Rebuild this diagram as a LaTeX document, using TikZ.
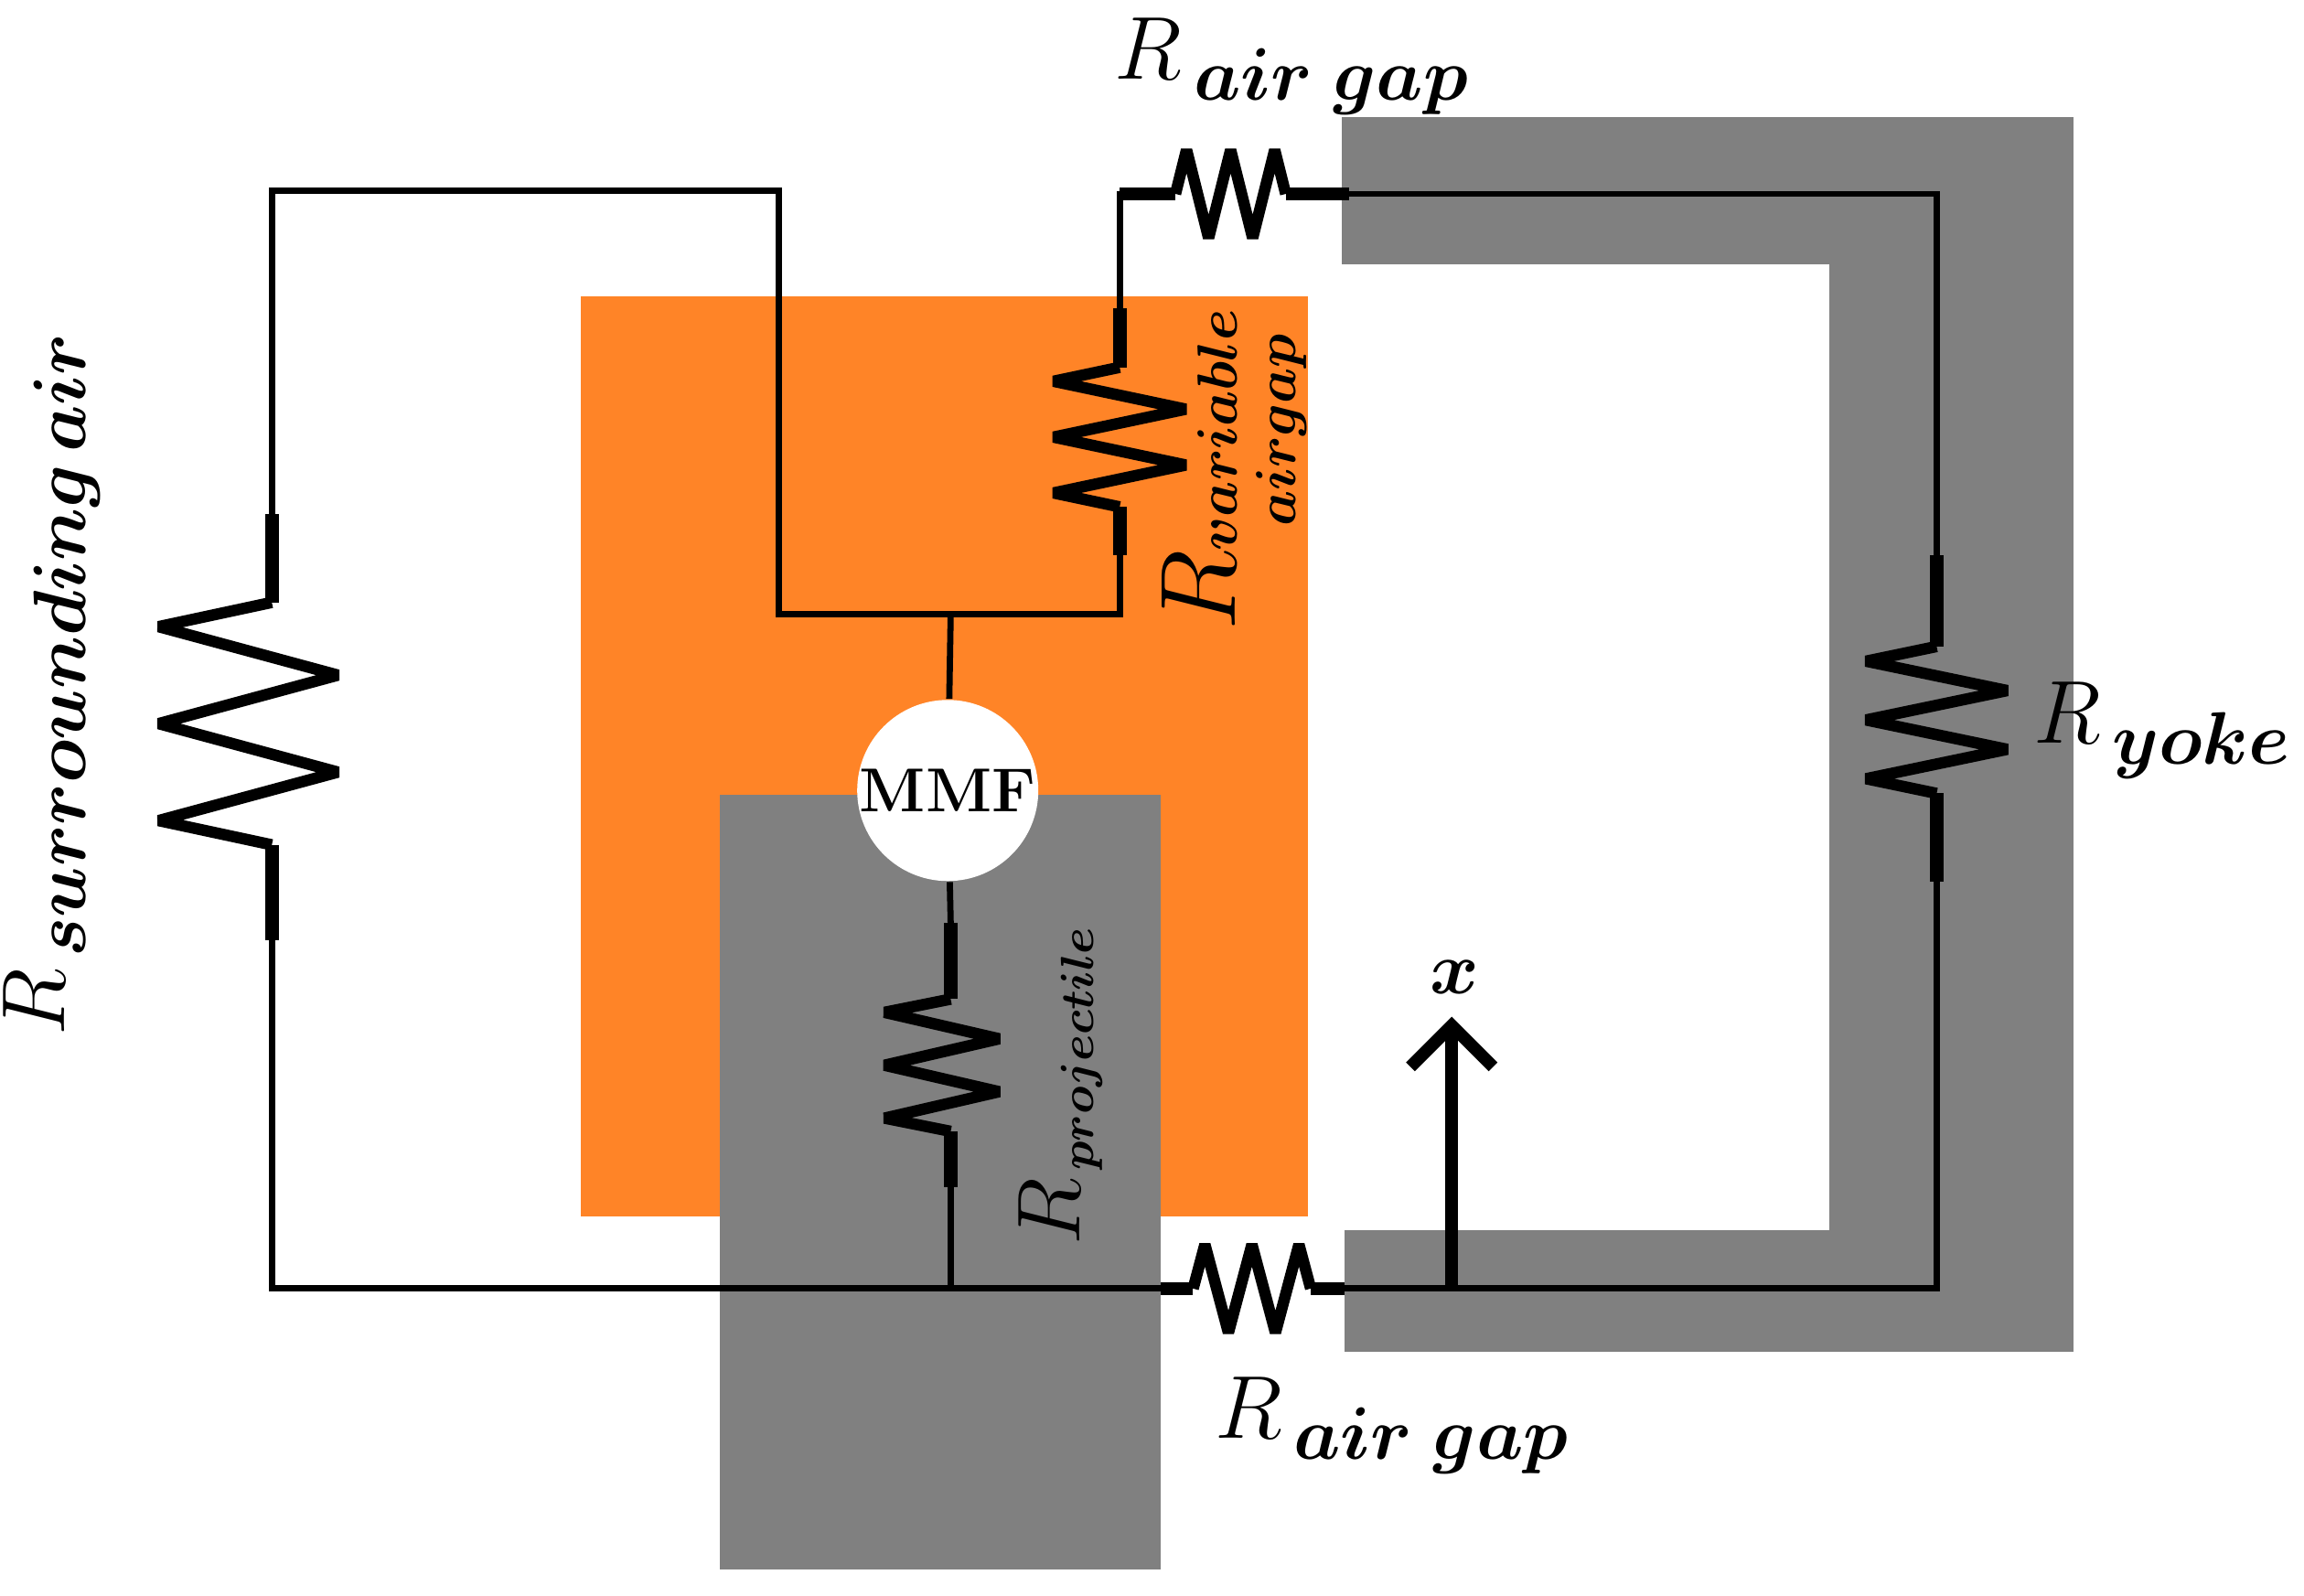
\documentclass[tikz,border=0pt]{standalone}
\usepackage{amsmath,bm}
\usetikzlibrary{arrows.meta}
\begin{document}
\newcommand\vres[7]{% x, y1, y2, y3, y4, left amp, right amp
 \draw[lead] (#1,#2) -- (#1,#3);
 \draw[zz] (#1,#3) -- ({#1-#6},{#3+0.1*(#4-#3)}) -- ({#1+#7},{#3+0.3*(#4-#3)}) -- ({#1-#6},{#3+0.5*(#4-#3)}) -- ({#1+#7},{#3+0.7*(#4-#3)}) -- ({#1-#6},{#3+0.9*(#4-#3)}) -- (#1,#4);
 \draw[lead] (#1,#4) -- (#1,#5);}
\newcommand\hres[6]{% y, x1, x2, x3, x4, amp
 \draw[lead] (#2,#1) -- (#3,#1);
 \draw[zz] (#3,#1) -- ({#3+0.1*(#4-#3)},{#1-#6}) -- ({#3+0.3*(#4-#3)},{#1+#6}) -- ({#3+0.5*(#4-#3)},{#1-#6}) -- ({#3+0.7*(#4-#3)},{#1+#6}) -- ({#3+0.9*(#4-#3)},{#1-#6}) -- (#4,#1);
 \draw[lead] (#4,#1) -- (#5,#1);}
\begin{tikzpicture}[x=0.01cm,y=-0.01cm,
  wire/.style={line width=1.2pt},
  lead/.style={line width=2.6pt},
  zz/.style={line width=2.2pt,line join=bevel},
  lab/.style={font=\fontsize{19}{22}\selectfont,inner sep=0pt}]
\useasboundingbox (0,0) rectangle (1568,1086);
\definecolor{org}{HTML}{FF8427}
\definecolor{gr}{HTML}{808080}
% shapes
\fill[org] (395,202) rectangle (890,828);
\fill[gr] (490,541) rectangle (790,1068);
\fill[gr] (913,80) rectangle (1411,180);
\fill[gr] (1245,80) rectangle (1411,920);
\fill[gr] (915,837) rectangle (1411,920);
% MMF
\node[circle,fill=white,minimum size=1.2cm,inner sep=0pt,font=\fontsize{12}{14}\selectfont\bfseries] (mmf) at (645,538) {MMF};
\coordinate (j1) at (647,418);
\coordinate (j2) at (647,877);
% wires
\draw[wire] (185,350) -- (185,130) -- (530,130) -- (530,418) -- (762,418) -- (762,378);
\draw[wire] (762,210) -- (762,132) -- (790,132);
\draw[wire] (918,132) -- (1318,132) -- (1318,378);
\draw[wire] (1318,600) -- (1318,877) -- (915,877);
\draw[wire] (790,877) -- (185,877) -- (185,640);
\draw[wire] (j1) -- (mmf);
\draw[wire] (mmf) -- (647,628);
\draw[wire] (647,808) -- (j2);
% resistors
\vres{185}{350}{410}{575}{640}{77}{45}
\vres{762}{210}{250}{345}{378}{45}{45}
\vres{1318}{378}{440}{540}{600}{48}{48}
\vres{647}{628}{680}{770}{808}{45}{33}
\hres{132}{762}{800}{875}{918}{30}
\hres{877}{790}{812}{892}{915}{30}
% arrow
\coordinate (a0) at (988,877);
\coordinate (a1) at (988,692);
\draw[line width=2.4pt,-{Straight Barb[length=8pt,width=16pt]}] (a0) -- (a1);
\node[lab,font=\fontsize{15}{18}\selectfont] (xl) at (990,665) {$\bm{x}$};
% labels
\node[lab] (l1) at (880,45) {$R_{\bm{\,air\;gap}}$};
\node[lab] (l2) at (948,970) {$R_{\bm{\,air\;gap}}$};
\node[lab] (l3) at (1472,497) {$R_{\bm{\,yoke}}$};
\node[lab,rotate=90] (l4) at (35,465) {$R_{\bm{\,surrounding\,air}}$};
\node[lab,rotate=90,anchor=west,font=\fontsize{22}{26}\selectfont] (l5) at (840,430) {$R_{\substack{\scriptscriptstyle\bm{variable}\\ \scriptscriptstyle\bm{airgap}}}$};
\node[lab,rotate=90,anchor=west] (l6) at (722,848) {$R_{\scriptscriptstyle\bm{\,projectile}}$};
\end{tikzpicture}
\end{document}
